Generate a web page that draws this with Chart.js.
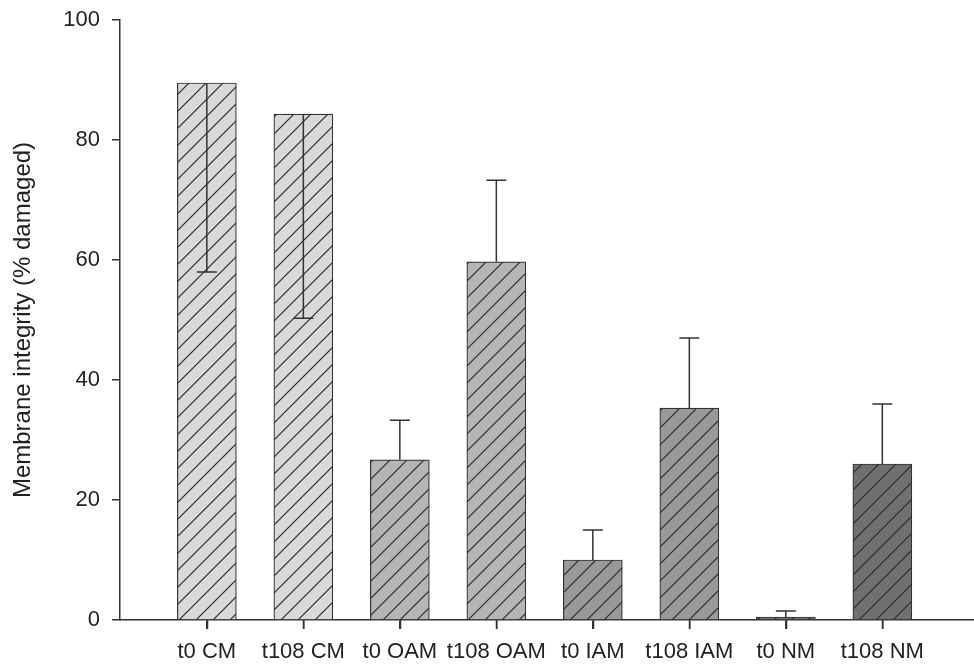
<!DOCTYPE html>
<html>
<head>
<meta charset="utf-8">
<script src="https://cdn.jsdelivr.net/npm/chart.js@4"></script>
<style>
  html, body { margin: 0; padding: 0; background: #fff; }
  #wrap { width: 974px; height: 667px; }
</style>
</head>
<body>
<div id="wrap"><canvas id="chart" width="974" height="667"></canvas></div>
<script>
// values
const categories = ['t0 CM', 't108 CM', 't0 OAM', 't108 OAM', 't0 IAM', 't108 IAM', 't0 NM', 't108 NM'];
const values = [89.5, 84.3, 26.7, 59.7, 10.0, 35.3, 0.5, 26.0];
const errUp = [0, 0, 6.6, 13.6, 5.0, 11.7, 1.0, 10.0];
const errDown = [31.5, 34.0, 0, 0, 0, 0, 0, 0];
const fills = ['#d9d9d9', '#d9d9d9', '#b5b5b5', '#b5b5b5', '#999999', '#999999', '#707070', '#707070'];
const yTicks = [0, 20, 40, 60, 80, 100];

const hatch = (bg) => {
  const s = 17;
  const c = document.createElement('canvas');
  c.width = s;
  c.height = s;
  const g = c.getContext('2d');
  g.fillStyle = bg;
  g.fillRect(0, 0, s, s);
  g.strokeStyle = '#2a2a2a';
  g.lineWidth = 1.2;
  g.beginPath();
  g.moveTo(0, s); g.lineTo(s, 0);
  g.moveTo(-2, 2); g.lineTo(2, -2);
  g.moveTo(s - 2, s + 2); g.lineTo(s + 2, s - 2);
  g.stroke();
  return g.createPattern(c, 'repeat');
};

// error bars (CM ones hang downward) and the x tick marks
const errorBars = {
  id: 'errorBars',
  afterDatasetsDraw(chart) {
    const { ctx, scales: { x, y } } = chart;
    ctx.save();
    ctx.strokeStyle = '#333';
    ctx.lineWidth = 1.5;
    values.forEach((v, i) => {
      const px = x.getPixelForValue(i);
      const ends = [];
      if (errUp[i]) ends.push(v + errUp[i]);
      if (errDown[i]) ends.push(v - errDown[i]);
      ends.forEach((e) => {
        const y0 = y.getPixelForValue(v);
        const y1 = y.getPixelForValue(e);
        ctx.beginPath();
        ctx.moveTo(px, y0);
        ctx.lineTo(px, y1);
        ctx.moveTo(px - 10, y1);
        ctx.lineTo(px + 10, y1);
        ctx.stroke();
      });
    });
    ctx.restore();
  },
  afterDraw(chart) {
    const { ctx, scales: { x, y } } = chart;
    const base = y.getPixelForValue(0);
    ctx.save();
    ctx.strokeStyle = '#333';
    ctx.lineWidth = 1.5;
    categories.forEach((c, i) => {
      const px = Math.round(x.getPixelForValue(i)) + 0.5;
      ctx.beginPath();
      ctx.moveTo(px, base);
      ctx.lineTo(px, base + 9);
      ctx.stroke();
    });
    ctx.restore();
  },
};

const font = { family: '"Liberation Sans", Arial, sans-serif', size: 22 };

new Chart(document.getElementById('chart'), {
  type: 'bar',
  data: {
    datasets: [{
      data: categories.map((c, i) => ({ x: i, y: values[i] })),
      backgroundColor: fills.map(hatch),
      borderColor: '#333',
      borderWidth: 1.2,
      barThickness: 59,
    }],
  },
  options: {
    responsive: false,
    animation: false,
    layout: { padding: { top: 20, right: 0, left: 0, bottom: 0 } },
    plugins: { legend: { display: false }, tooltip: { enabled: false } },
    scales: {
      x: {
        type: 'linear',
        min: -0.9,
        max: 7.95,
        offset: false,
        afterBuildTicks: (s) => { s.ticks = categories.map((c, i) => ({ value: i })); },
        afterFit: (s) => { s.height = 47; s.paddingLeft = 0; s.paddingRight = 0; },
        ticks: {
          autoSkip: false,
          maxRotation: 0,
          padding: 10,
          color: '#222',
          font,
          callback: (v) => categories[Math.round(v)],
        },
        grid: { offset: false, drawOnChartArea: false, drawTicks: true, tickLength: 9, color: '#333', lineWidth: 1.5 },
        border: { color: '#333', width: 1.5 },
      },
      y: {
        min: 0,
        max: 100,
        afterBuildTicks: (s) => { s.ticks = yTicks.map((v) => ({ value: v })); },
        afterFit: (s) => { s.width = 120; s.paddingTop = 0; s.paddingBottom = 0; },
        ticks: { padding: 12, color: '#222', font },
        grid: { drawOnChartArea: false, drawTicks: true, tickLength: 8, color: '#333', lineWidth: 1.5 },
        border: { color: '#333', width: 1.5 },
        title: {
          display: true,
          text: 'Membrane integrity (% damaged)',
          color: '#222',
          font: { family: font.family, size: 24 },
          padding: { top: 9, bottom: 0 },
        },
      },
    },
  },
  plugins: [errorBars],
});
</script>
</body>
</html>
